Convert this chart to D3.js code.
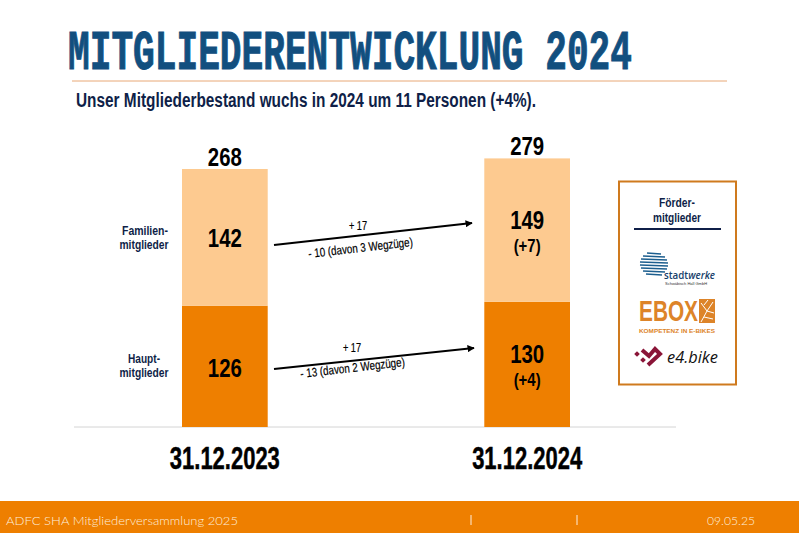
<!DOCTYPE html>
<html>
<head>
<meta charset="utf-8">
<script src="https://cdn.jsdelivr.net/npm/d3@7"></script>
<style>
  html, body { margin: 0; padding: 0; background: #fff; }
  svg { display: block; }
  text { font-family: "Liberation Sans", sans-serif; }
</style>
</head>
<body>
<svg id="chart" width="799" height="533"></svg>
<script>
var dates = ['31.12.2023', '31.12.2024'];
var hauptValues = [126, 130];
var familienValues = [142, 149];
var totals = [268, 279];
var familienChange = [null, '(+7)'];
var hauptChange = [null, '(+4)'];
var flowUp = ['+ 17', '+ 17'];
var flowDown = ['- 10 (davon 3 Wegzüge)', '- 13 (davon 2 Wegzüge)'];

var ORANGE = '#ee7f00';
var LIGHT = '#fdca90';
var NAVY = '#0f1f48';
var FOOT = '#fdeedd';

var svg = d3.select('#chart');

var x = d3.scaleBand().domain(dates).range([182, 570]).paddingInner(0.7165).paddingOuter(0);
var y = d3.scaleLinear().domain([0, 279]).range([427, 158.4]);

function label(g, str, px, py, size, opts) {
  opts = opts || {};
  var t = g.append('text')
    .attr('x', px).attr('y', py)
    .attr('font-size', size)
    .attr('font-weight', opts.weight || 'bold')
    .attr('text-anchor', opts.anchor || 'middle')
    .attr('fill', opts.fill || '#000')
    .text(str);
  if (opts.family) t.style('font-family', opts.family);
  if (opts.length) t.attr('textLength', opts.length).attr('lengthAdjust', 'spacingAndGlyphs');
  if (opts.rotate) t.attr('transform', 'rotate(' + opts.rotate + ' ' + px + ' ' + py + ')');
  return t;
}

// header, mono face squeezed to get the slab poster look
label(svg, 'MITGLIEDERENTWICKLUNG 2024', 0, 0, 56, {anchor: 'start', fill: '#124f7f', family: '"Liberation Mono", monospace'})
  .attr('transform', 'translate(68,69) scale(0.6456,1)')
  .attr('stroke', '#124f7f').attr('stroke-width', 1);
svg.append('line').attr('x1', 72).attr('x2', 727).attr('y1', 81).attr('y2', 81)
  .attr('stroke', '#e8a877').attr('stroke-width', 1);
label(svg, 'Unser Mitgliederbestand wuchs in 2024 um 11 Personen (+4%).', 76, 107, 20, {anchor: 'start', fill: NAVY, length: 460});

// baseline
svg.append('line').attr('x1', 74).attr('x2', 676).attr('y1', y(0)).attr('y2', y(0))
  .attr('stroke', '#d4d4d4').attr('stroke-width', 1);

// stacked bars
var columns = svg.selectAll('.col').data(dates).enter().append('g').attr('class', 'col');

columns.append('rect').attr('class', 'haupt')
  .attr('x', function(d) { return x(d); })
  .attr('width', x.bandwidth())
  .attr('y', function(d, i) { return y(hauptValues[i]); })
  .attr('height', function(d, i) { return y(0) - y(hauptValues[i]); })
  .attr('fill', ORANGE);

columns.append('rect').attr('class', 'familien')
  .attr('x', function(d) { return x(d); })
  .attr('width', x.bandwidth())
  .attr('y', function(d, i) { return y(totals[i]); })
  .attr('height', function(d, i) { return y(hauptValues[i]) - y(totals[i]); })
  .attr('fill', LIGHT);

columns.each(function(d, i) {
  var g = d3.select(this);
  var cx = x(d) + x.bandwidth() / 2;
  var famMid = (y(hauptValues[i]) + y(totals[i])) / 2;
  var hauptMid = (y(0) + y(hauptValues[i])) / 2;
  label(g, totals[i], cx, y(totals[i]) - 3, 26, {length: 34});
  // with a change label the number sits higher in its segment
  label(g, familienValues[i], cx, famMid + (familienChange[i] ? -1.5 : 9.5), 26, {length: 34});
  label(g, hauptValues[i], cx, hauptMid + (hauptChange[i] ? -1 : 11), 26, {length: 34});
  if (familienChange[i]) label(g, familienChange[i], cx, famMid + 21.5, 18.5, {length: 27});
  if (hauptChange[i]) label(g, hauptChange[i], cx, hauptMid + 22, 18.5, {length: 27});
  label(g, d, cx, 469, 32, {length: 110}).attr('stroke', '#000').attr('stroke-width', 0.5);
});

// row labels
label(svg, 'Familien-', 145, 235, 12.5, {fill: NAVY, length: 46});
label(svg, 'mitglieder', 144, 249, 12.5, {fill: NAVY, length: 49});
label(svg, 'Haupt-', 144, 363, 12.5, {fill: NAVY, length: 32});
label(svg, 'mitglieder', 144, 377, 12.5, {fill: NAVY, length: 49});

// flow arrows between the two bars
svg.append('defs').append('marker')
  .attr('id', 'head').attr('viewBox', '0 0 10 10')
  .attr('refX', 9).attr('refY', 5)
  .attr('markerWidth', 3.6).attr('markerHeight', 3.6)
  .attr('orient', 'auto')
  .append('path').attr('d', 'M0,0L10,5L0,10z').attr('fill', '#000');

var flowLines = [[274, 245, 472, 223], [274, 369, 474, 348]];
flowLines.forEach(function(f) {
  svg.append('line')
    .attr('x1', f[0]).attr('y1', f[1]).attr('x2', f[2]).attr('y2', f[3])
    .attr('stroke', '#000').attr('stroke-width', 2)
    .attr('marker-end', 'url(#head)');
});
label(svg, flowUp[0], 358, 230, 12.5, {length: 18, weight: 'normal'}).attr('stroke', '#000').attr('stroke-width', 0.2);
label(svg, flowDown[0], 361, 252, 12.5, {rotate: -6.5, length: 105, weight: 'normal'}).attr('stroke', '#000').attr('stroke-width', 0.2);
label(svg, flowUp[1], 352, 352, 12.5, {length: 18, weight: 'normal'}).attr('stroke', '#000').attr('stroke-width', 0.2);
label(svg, flowDown[1], 353, 372, 12.5, {rotate: -6.5, length: 105, weight: 'normal'}).attr('stroke', '#000').attr('stroke-width', 0.2);

// sponsor box
svg.append('rect').attr('x', 619).attr('y', 181.5).attr('width', 117).attr('height', 203)
  .attr('fill', '#fff').attr('stroke', '#cf7a1e').attr('stroke-width', 2);
label(svg, 'Förder-', 677, 207, 12.5, {fill: NAVY, length: 36});
label(svg, 'mitglieder', 677, 222, 12.5, {fill: NAVY, length: 48});
svg.append('line').attr('x1', 634).attr('x2', 721).attr('y1', 229).attr('y2', 229)
  .attr('stroke', NAVY).attr('stroke-width', 2);

// stadtwerke logo
var globe = svg.append('g');
[[-11, 7], [-8, 11], [-5, 13], [-2, 14], [1, 14], [4, 13], [7, 11], [10, 8]].forEach(function(s) {
  globe.append('line')
    .attr('x1', 654 - s[1]).attr('x2', 654 + s[1])
    .attr('y1', 264 + s[0]).attr('y2', 264 + s[0] + 1)
    .attr('stroke', '#1d5f8f').attr('stroke-width', 1.7);
});
var sw = label(svg, 'stadt', 664, 279, 10.5, {anchor: 'start', fill: '#16406a', family: '"Open Sans", sans-serif', weight: '600', length: 51});
sw.append('tspan').attr('font-style', 'italic').text('werke');
label(svg, 'Schwäbisch Hall GmbH', 665, 285, 4, {anchor: 'start', fill: '#333', weight: 'normal'});

// e-box logo
label(svg, 'EBOX', 639, 320.5, 30, {anchor: 'start', fill: '#dd8429', length: 59});
svg.append('rect').attr('x', 699).attr('y', 299).attr('width', 16).attr('height', 24).attr('fill', '#dd8429');
['M701,322L707,311L713,302', 'M707,311L701,303', 'M707,311L714,313', 'M704,317L713,319', 'M704,305L708,300'].forEach(function(p) {
  svg.append('path').attr('d', p).attr('fill', 'none').attr('stroke', '#fff').attr('stroke-width', 1);
});
label(svg, 'KOMPETENZ IN E-BIKES', 639, 332.5, 6, {anchor: 'start', fill: '#dd8429', length: 76});

// e4.bike logo
svg.append('path').attr('d', 'M642,350L649,356L655,349L660,354L648,365')
  .attr('fill', 'none').attr('stroke', '#8a1538').attr('stroke-width', 4);
[[637, 354], [643, 360]].forEach(function(m) {
  svg.append('rect').attr('x', m[0] - 2).attr('y', m[1] - 2).attr('width', 4).attr('height', 4)
    .attr('transform', 'rotate(45 ' + m[0] + ' ' + m[1] + ')')
    .attr('fill', '#8a1538');
});
label(svg, 'e4.bike', 667, 363, 17, {anchor: 'start', fill: '#111', family: '"Open Sans", sans-serif', weight: 'normal', length: 51}).attr('font-style', 'italic');

// footer
svg.append('rect').attr('x', 0).attr('y', 501).attr('width', 799).attr('height', 32).attr('fill', ORANGE);
label(svg, 'ADFC SHA Mitgliederversammlung 2025', 6, 525, 12, {anchor: 'start', fill: FOOT, weight: '300', family: 'Lato, sans-serif', length: 232});
label(svg, '09.05.25', 707, 525, 12, {anchor: 'start', fill: FOOT, weight: '300', family: 'Lato, sans-serif', length: 48});
[471, 577].forEach(function(px) {
  svg.append('line').attr('x1', px).attr('x2', px).attr('y1', 515).attr('y2', 525)
    .attr('stroke', FOOT).attr('stroke-width', 1);
});
</script>
</body>
</html>
